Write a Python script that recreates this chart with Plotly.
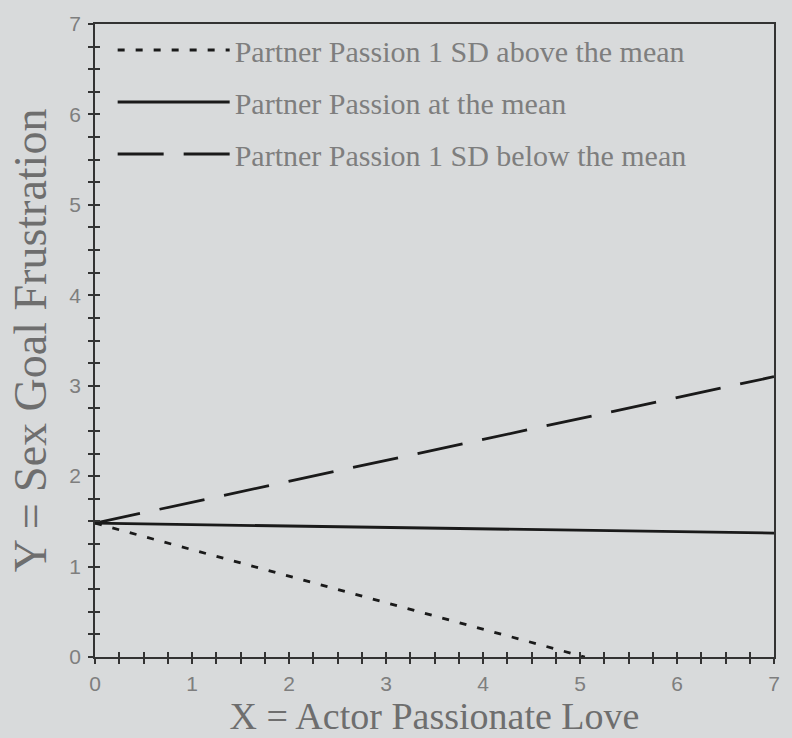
import plotly.graph_objects as go

# Data
x_above = [0, 5.05]
y_above = [1.48, 0.0]
x_mean = [0, 7]
y_mean = [1.48, 1.37]
x_below = [0, 7]
y_below = [1.48, 3.10]

names = ["Partner Passion 1 SD above the mean",
         "Partner Passion at the mean",
         "Partner Passion 1 SD below the mean"]

BG = "#d8dadb"
INK = "#1a1a1a"
GRAY_TXT = "#7e7e7e"

fig = go.Figure()
fig.add_trace(go.Scatter(x=x_above, y=y_above, mode="lines", name=names[0],
                         legendgroup="a",
                         line=dict(color=INK, width=2.8, dash="7px,11px")))
fig.add_trace(go.Scatter(x=x_mean, y=y_mean, mode="lines", name=names[1],
                         legendgroup="b",
                         line=dict(color=INK, width=2.8)))
fig.add_trace(go.Scatter(x=x_below, y=y_below, mode="lines", name=names[2],
                         legendgroup="c",
                         line=dict(color=INK, width=2.8, dash="46px,20px")))
# invisible trace to activate overlay axes for inside ticks
fig.add_trace(go.Scatter(x=[0, 7], y=[0, 7], xaxis="x2", yaxis="y2", mode="lines",
                         line=dict(width=0), showlegend=False, hoverinfo="skip"))

tick_common = dict(ticklen=5, tickcolor="#333", tickwidth=1.5)
TICKFONT = dict(family="Liberation Sans Narrow, Liberation Sans", size=21, color=GRAY_TXT)

fig.update_layout(
    width=792, height=738,
    margin=dict(l=95, r=14, t=21, b=80),
    paper_bgcolor=BG, plot_bgcolor=BG,
    showlegend=True,
    legend=dict(x=0.026, y=1.0, xanchor="left", yanchor="top",
                bgcolor="rgba(0,0,0,0)", itemwidth=112, tracegroupgap=10,
                font=dict(family="Liberation Serif", size=30, color=GRAY_TXT)),
    xaxis=dict(range=[0, 7], dtick=1, tick0=0, showgrid=False, zeroline=False,
               showline=True, linecolor="#333", linewidth=1.5, mirror=True,
               ticks="outside", **tick_common, ticklabelstandoff=2,
               minor=dict(dtick=0.25, ticks="outside", **tick_common),
               tickfont=TICKFONT,
               title=dict(text="X = Actor Passionate Love", standoff=4,
                          font=dict(family="Liberation Serif", size=38, color="#6e6e6e"))),
    yaxis=dict(range=[0, 7], dtick=1, tick0=0, showgrid=False, zeroline=False,
               showline=True, linecolor="#333", linewidth=1.5, mirror=True,
               ticks="outside", **tick_common, ticklabelstandoff=3,
               minor=dict(dtick=0.25, ticks="outside", **tick_common),
               tickfont=TICKFONT,
               title=dict(text="Y = Sex Goal Frustration", standoff=8,
                          font=dict(family="Liberation Serif", size=46, color="#6e6e6e"))),
    xaxis2=dict(overlaying="x", matches="x", range=[0, 7], dtick=0.25, tick0=0,
                showticklabels=False, showgrid=False, zeroline=False, showline=False,
                ticks="inside", **tick_common),
    yaxis2=dict(overlaying="y", matches="y", range=[0, 7], dtick=0.25, tick0=0,
                showticklabels=False, showgrid=False, zeroline=False, showline=False,
                ticks="inside", **tick_common),
)

fig.write_html("out.html")
